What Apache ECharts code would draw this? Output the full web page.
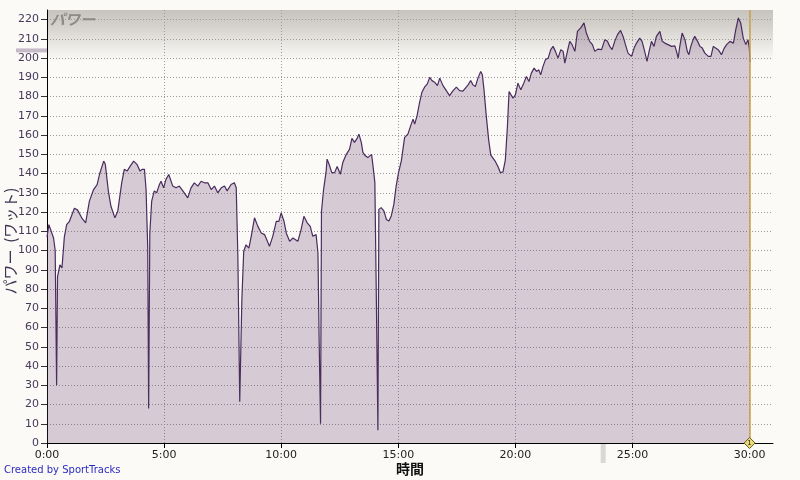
<!DOCTYPE html>
<html><head><meta charset="utf-8">
<script src="https://cdn.jsdelivr.net/npm/echarts@6/dist/echarts.min.js"></script>
<style>html,body{margin:0;padding:0;background:#fbfaf7;}#c{width:800px;height:480px;}</style>
</head><body><div id="c"></div>
<script>
// time in minutes
const times = [0,0.08,0.28,0.35,0.41,0.45,0.55,0.64,0.74,0.84,0.95,1.17,1.31,1.48,1.65,1.81,1.99,2.14,2.24,2.42,2.49,2.62,2.73,2.9,3.02,3.19,3.3,3.42,3.56,3.7,3.84,3.97,4.06,4.16,4.23,4.3,4.34,4.39,4.47,4.58,4.68,4.8,4.87,4.98,5.08,5.2,5.37,5.51,5.65,5.8,
5.87,6.01,6.15,6.29,6.44,6.58,6.72,6.87,7.01,7.15,7.29,7.44,7.58,7.69,7.86,8.0,8.08,8.15,8.23,8.32,8.4,8.5,8.62,8.72,8.86,9.0,9.15,9.29,9.37,9.5,9.64,9.79,9.9,10.0,10.12,10.22,10.36,10.5,10.57,10.71,10.85,10.97,11.11,11.24,11.35,11.49,11.57,11.62,11.68,11.72,11.81,11.92,
11.96,12.06,12.16,12.28,12.39,12.53,12.63,12.78,12.92,13.02,13.13,13.23,13.32,13.42,13.49,13.59,13.7,13.78,13.86,13.92,14.0,14.06,14.13,14.17,14.27,14.39,14.49,14.6,14.7,14.81,14.91,15.01,15.13,15.27,15.41,15.53,15.63,15.7,15.8,15.91,16.01,16.12,16.24,16.34,16.44,16.55,16.67,16.77,16.91,17.05,17.19,17.34,17.48,17.62,17.76,
17.98,18.09,18.19,18.29,18.4,18.52,18.59,18.66,18.76,18.86,18.95,19.05,19.15,19.26,19.36,19.47,19.57,19.66,19.73,19.8,19.9,20.0,20.11,20.23,20.33,20.47,20.58,20.68,20.8,20.9,21.0,21.08,21.18,21.28,21.4,21.51,21.61,21.71,21.82,21.94,22.04,22.11,22.22,22.32,22.42,22.54,22.65,22.79,22.93,23.03,23.17,23.29,23.39,23.53,23.68,
23.82,23.93,24.03,24.13,24.24,24.36,24.49,24.6,24.7,24.81,24.96,25.07,25.17,25.31,25.41,25.52,25.62,25.71,25.81,25.92,26.02,26.17,26.27,26.38,26.52,26.67,26.81,26.88,26.95,27.02,27.12,27.24,27.34,27.41,27.49,27.59,27.66,27.78,27.88,27.98,28.09,28.24,28.35,28.45,28.55,28.66,28.8,28.92,29.02,29.16,29.31,29.41,29.52,29.62,29.73,29.84,29.93,29.99,30.02];
// power in watts
const power = [107,113.5,106.5,100,30,86.5,92.6,91,107,113.5,115,122,121,117,114.4,125.7,131.7,134.3,139.5,146.5,144.8,130.9,123,117,120.4,135.2,142.2,141.3,144,146.5,144.8,141.3,142.2,142.2,131.7,102,17.9,109,125.7,131,130,134.3,136,132.6,137,139.5,133.5,132.6,133.5,131,
130,127.4,132.6,135.2,133.5,136,135.2,135.2,131.7,133.5,130,132.6,133.5,131,134.3,135.2,132.6,97,21.4,74.4,99.6,103,101.3,107.4,117,112.7,109.1,108.3,109,102.2,107.4,115.2,115.2,119.6,115.2,109,104.8,106.5,107.4,104.8,110.9,117.8,114.4,112.6,107.4,108.3,98.7,53.5,10,120.4,131.7,141.3,
147.5,144.3,140.5,140.5,143.7,139.7,145.7,150,152.7,158.3,156.2,158,160.5,156.2,151,149.2,148.3,149.2,150,144,135.3,77.9,6.6,121.4,122.3,120.5,116.2,115.3,118,124,133.6,140.5,146.6,158.8,160.5,164.9,168.3,165.7,170,177,182.3,184.9,186.6,190,188.3,187.5,185.7,189.6,185.7,183.1,180.5,183.1,184.9,183.1,182.8,
186.1,188.4,186.1,185.2,189.6,193.1,191.3,183.5,169.6,157.4,149.6,147.9,146.2,143.5,140.4,140.9,147,164.4,182.6,183.5,179.2,180.9,187,183.5,186.1,190.5,187.8,192.2,194.8,193.1,193.9,191.3,195.7,199.1,200,204.4,206.1,203.5,200,204.4,203.5,197.4,203.5,208.7,207,203.5,213.9,215.7,218.3,213,208.7,207,203.5,204.7,204.4,
209.6,208.7,206.1,204.4,208.7,212.2,214.4,211.3,207,202.6,200.9,205.2,207.8,210.4,208.7,203.5,198.3,203.5,208.7,206.1,211.3,213.9,208.7,207.8,207,206.1,206.4,203.5,200,206.1,213,209.6,203.5,201.8,206.1,209.6,211.3,208.7,206.1,205.2,202.6,200.9,200.9,206.1,205.2,204.4,201.8,205.2,207,208.7,207.8,214.8,220.9,218.3,210.4,207,209.6,205.2,198];
const xTicks = [0,5,10,15,20,25,30];
const yTicks = [0,10,20,30,40,50,60,70,80,90,100,110,120,130,140,150,160,170,180,190,200,210,220];
const xMax = 31, yMax = 225;
const lapTime = 30, lapLabel = '1';
const yMarkerValue = 204, xMarkerValue = 23.75;

const chart = echarts.init(document.getElementById('c'), null, {renderer:'canvas'});
const fmt = v => { const m = Math.floor(v); const s = Math.round((v-m)*60); return m + ':' + (s<10?'0':'') + s; };
const axisFont = 'DejaVu Sans';
const yNameText = {type:'text', x:10, y:241, rotation:Math.PI/2, style:{text:'パワー  (ワット)', font:'15px "Noto Sans CJK JP"', fill:'#3f3450', textAlign:'center', textVerticalAlign:'middle'}};
const credit = {type:'text', left:4, top:465, style:{text:'Created by SportTracks', font:'10px "DejaVu Sans"', fill:'#2b2bc4'}};
chart.setOption({
  backgroundColor:'#fbfaf7',
  animation:false,
  title:{text:'パワー', left:45, top:7, textStyle:{fontFamily:'Noto Sans CJK JP', fontStyle:'italic', fontWeight:'bold', fontSize:15, color:'#8d8a87'}},
  grid:{left:47, right:27, top:10, bottom:37, show:true, borderWidth:0, outerBoundsMode:'none', containLabel:false,
    backgroundColor:{type:'linear', x:0, y:0, x2:0, y2:1, colorStops:[
      {offset:0, color:'#c7c3be'},{offset:0.04, color:'#d6d3cf'},{offset:0.09, color:'#efede9'},{offset:0.12, color:'#fbfaf7'},{offset:1, color:'#fbfaf7'}]}},
  xAxis:{type:'value', min:0, max:xMax, interval:5,
    name:'時間', nameLocation:'middle', nameGap:19, nameMoveOverlap:false,
    nameTextStyle:{fontFamily:'Noto Sans CJK JP', fontWeight:'bold', fontSize:14, color:'#111', verticalAlign:'top'},
    axisLine:{show:true, lineStyle:{color:'#000', width:1}},
    axisTick:{show:true, length:5, customValues:xTicks, lineStyle:{color:'#000'}},
    axisLabel:{customValues:xTicks, formatter:fmt, margin:7, fontFamily:axisFont, fontSize:11, color:'#222'},
    splitLine:{show:true, lineStyle:{color:'#9a9a9a', type:[1,2], width:1}}},
  yAxis:{type:'value', min:0, max:yMax, interval:10,
    axisLine:{show:true, lineStyle:{color:'#000', width:1}},
    axisTick:{show:true, length:6, customValues:yTicks, lineStyle:{color:'#333'}},
    axisLabel:{customValues:yTicks, margin:8, fontFamily:axisFont, fontSize:11, color:'#46395a'},
    splitLine:{show:true, lineStyle:{color:'#9a9a9a', type:[1,2], width:1}}},
  series:[{type:'line', data:times.map((t,i)=>[t,power[i]]), showSymbol:false, symbol:'none',
    lineStyle:{color:'#4a2c5e', width:1.2}, areaStyle:{color:'rgba(95,55,100,0.34)'},
    markLine:{silent:true, symbol:'none', label:{show:false}, lineStyle:{color:'#c9a04a', width:1.5, type:'solid'}, data:[{xAxis:lapTime}]},
    markPoint:{silent:true, symbol:'diamond', symbolSize:[11,11], itemStyle:{color:'#eadb7a', borderColor:'#6b5a1c', borderWidth:1},
      label:{show:true, formatter:lapLabel, fontSize:7, color:'#222', fontFamily:'DejaVu Sans'}, data:[{coord:[lapTime,0]}]}
  }],
  graphic:[yNameText, credit]
});
const py = chart.convertToPixel({gridIndex:0},[0,yMarkerValue]);
const px = chart.convertToPixel({gridIndex:0},[xMarkerValue,0]);
chart.setOption({graphic:[
  yNameText, credit,
  {type:'rect', shape:{x:16, y:py[1]-2, width:py[0]-16, height:4}, style:{fill:'#c6bac8'}, z:1},
  {type:'rect', shape:{x:px[0]-2.5, y:px[1]+1, width:5, height:19}, style:{fill:'#d8d8d8'}, z:1}
]});
</script></body></html>
